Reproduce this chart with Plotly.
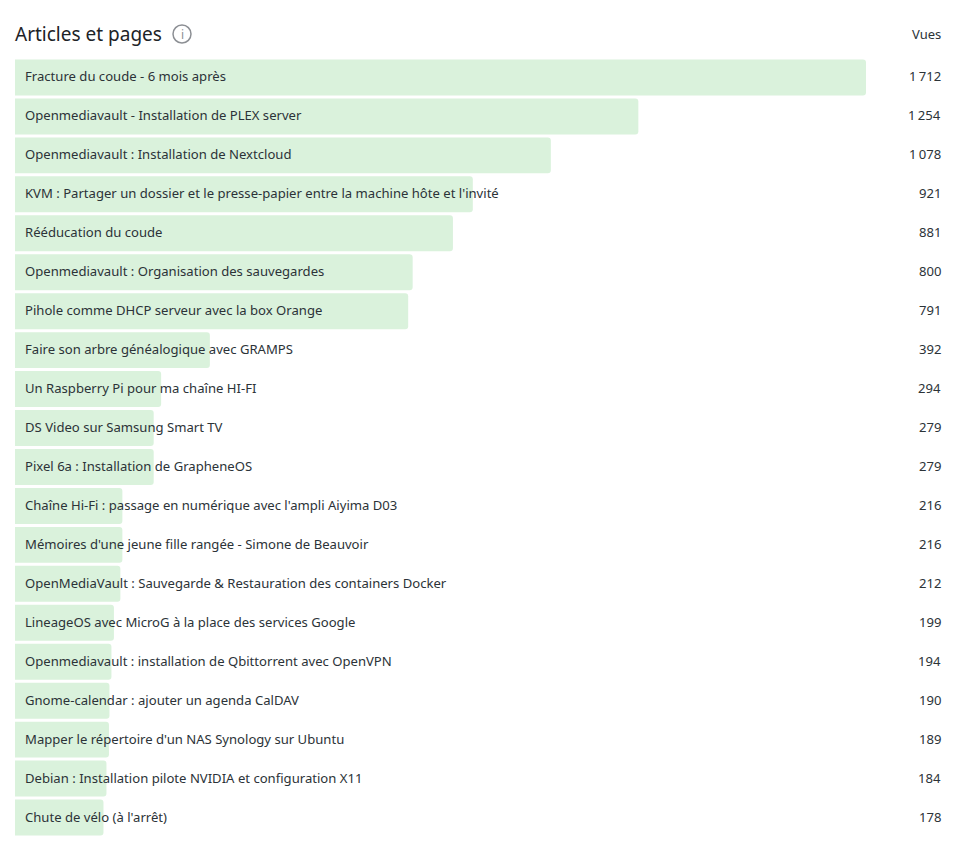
import plotly.graph_objects as go

TITLE = "Articles et pages"
VALUE_HEADER = "Vues"

pages = [
  "Fracture du coude - 6 mois après",
  "Openmediavault - Installation de PLEX server",
  "Openmediavault : Installation de Nextcloud",
  "KVM : Partager un dossier et le presse-papier entre la machine hôte et l'invité",
  "Rééducation du coude",
  "Openmediavault : Organisation des sauvegardes",
  "Pihole comme DHCP serveur avec la box Orange",
  "Faire son arbre généalogique avec GRAMPS",
  "Un Raspberry Pi pour ma chaîne HI-FI",
  "DS Video sur Samsung Smart TV",
  "Pixel 6a : Installation de GrapheneOS",
  "Chaîne Hi-Fi : passage en numérique avec l'ampli Aiyima D03",
  "Mémoires d'une jeune fille rangée - Simone de Beauvoir",
  "OpenMediaVault : Sauvegarde & Restauration des containers Docker",
  "LineageOS avec MicroG à la place des services Google",
  "Openmediavault : installation de Qbittorrent avec OpenVPN",
  "Gnome-calendar : ajouter un agenda CalDAV",
  "Mapper le répertoire d'un NAS Synology sur Ubuntu",
  "Debian : Installation pilote NVIDIA et configuration X11",
  "Chute de vélo (à l'arrêt)",
]
views = [1712, 1254, 1078, 921, 881, 800, 791, 392, 294, 279,
         279, 216, 216, 212, 199, 194, 190, 189, 184, 178]

FONT = "Noto Sans"
TEXT = "#2c3338"
BAR = "#daf2dc"


def fmt_views(v):
  # French thousands separator (narrow space)
  return f"{v:,}".replace(",", "\u202f")


fig = go.Figure(
  go.Bar(
    x=views,
    y=pages,
    orientation="h",
    marker=dict(color=BAR, line=dict(width=0), cornerradius=3),
    hoverinfo="x+y",
  )
)

annotations = []
for page, v in zip(pages, views):
  annotations.append(dict(
    x=0, y=page, xref="x", yref="y", text=page, showarrow=False,
    xanchor="left", xshift=8, yshift=1, font=dict(size=13.1, color=TEXT, family=FONT),
  ))
  annotations.append(dict(
    x=1, y=page, xref="paper", yref="y", text=fmt_views(v), showarrow=False,
    xanchor="right", xshift=77, yshift=1, font=dict(size=13.1, color=TEXT, family=FONT),
  ))

annotations.append(dict(
  x=0, y=1, xref="paper", yref="paper", text=TITLE, showarrow=False,
  xanchor="left", yanchor="middle", yshift=24, xshift=-2,
  font=dict(size=19, color="#1d2327", family=FONT),
))
annotations.append(dict(
  x=1, y=1, xref="paper", yref="paper", text=VALUE_HEADER, showarrow=False,
  xanchor="right", yanchor="middle", yshift=24, xshift=77,
  font=dict(size=13, color=TEXT, family=FONT),
))
annotations.append(dict(
  x=0, y=1, xref="paper", yref="paper", text="i", showarrow=False,
  xanchor="center", yanchor="middle", xshift=167, yshift=24,
  font=dict(size=12, color="#8c8f94", family=FONT),
))

fig.add_shape(
  type="circle", xref="paper", yref="paper", xsizemode="pixel", ysizemode="pixel",
  xanchor=0, yanchor=1, x0=158, x1=176, y0=15, y1=33,
  line=dict(color="#8c8f94", width=1.5),
)

fig.update_layout(
  width=964,
  height=842,
  margin=dict(l=7, r=106, t=49.5, b=12.5),
  paper_bgcolor="white",
  plot_bgcolor="white",
  bargap=0.077,
  showlegend=False,
  annotations=annotations,
  xaxis=dict(range=[0, 1712], visible=False, fixedrange=True),
  yaxis=dict(autorange="reversed", visible=False, fixedrange=True),
  font=dict(family=FONT),
)

fig.write_html("out.html")
